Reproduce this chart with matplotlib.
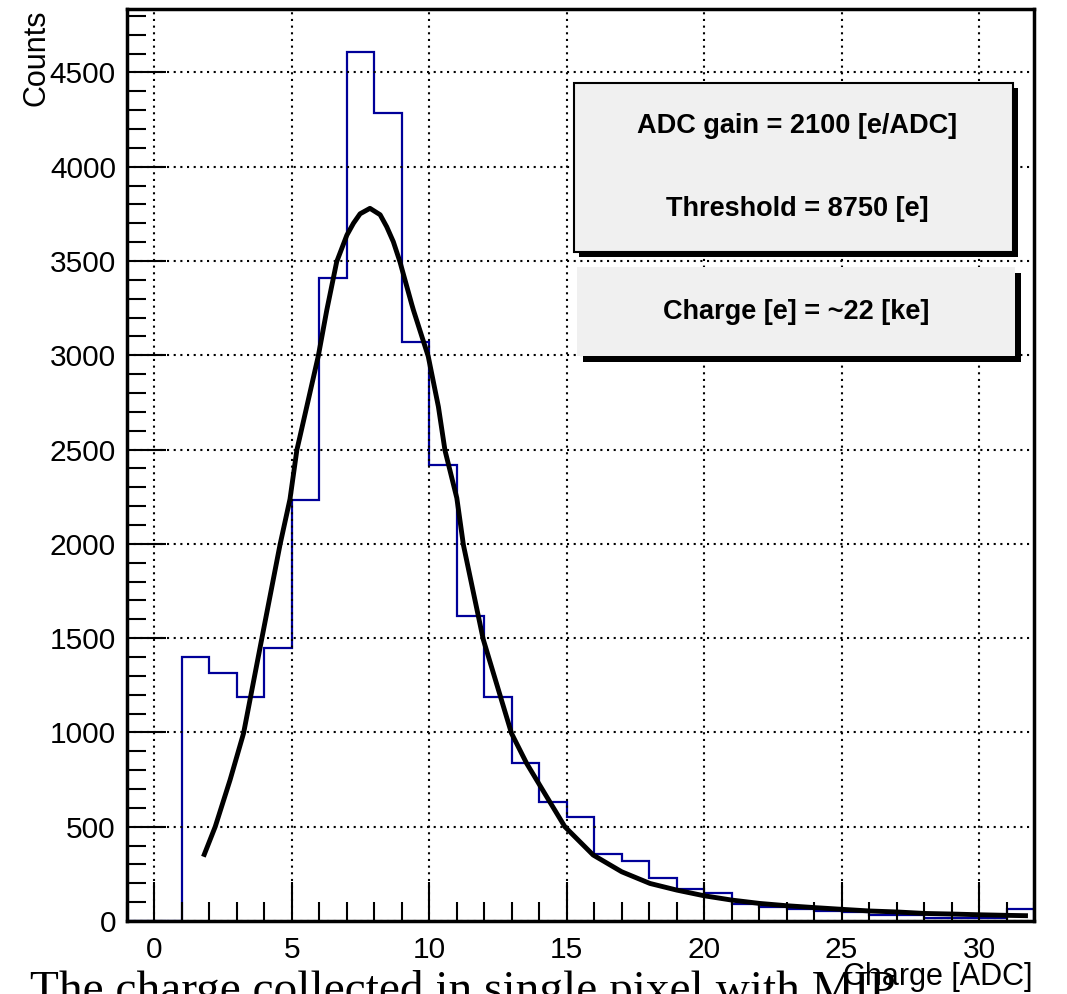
import matplotlib
matplotlib.use("Agg")
import matplotlib.pyplot as plt
from matplotlib.patches import Rectangle
from matplotlib.ticker import MultipleLocator
import numpy as np

# ---- data ----
bin_edges = list(range(-1, 33))
counts = [0, 0, 1401, 1317, 1186, 1446, 2230, 3412, 4608, 4284, 3068, 2418,
          1617, 1186, 836, 632, 553, 355, 318, 226, 170, 150, 90, 76, 64,
          53, 46, 32, 32, 18, 18, 15, 62]

fit_x = [1.78, 2.21, 2.75, 3.24, 3.90, 4.57, 4.93, 5.18, 5.54, 5.96, 6.27,
         6.63, 7.00, 7.24, 7.48, 7.84, 8.21, 8.45, 8.69, 8.93, 9.36, 9.42,
         9.96, 10.33, 10.57, 11.0, 11.24, 11.96, 12.99, 13.54, 14.27, 14.93,
         15.96, 17.0, 18.03, 19.0, 19.99, 21.0, 22.03, 23.0, 24.02, 25.0,
         26.03, 27.0, 28.03, 29.0, 30.03, 31.0, 31.78]
fit_y = [341, 500, 748, 995, 1494, 1997, 2237, 2497, 2727, 2996, 3240,
         3496, 3637, 3700, 3750, 3779, 3745, 3681, 3602, 3496, 3270, 3240,
         2994, 2727, 2495, 2243, 1994, 1494, 995, 836, 659, 500,
         350, 261, 199, 164, 134, 111, 93, 81, 71, 62,
         53, 48, 40, 37, 33, 30, 28]

x_label = "Charge [ADC]"
y_label = "Counts"
box1_lines = ["ADC gain = 2100 [e/ADC]", "Threshold = 8750 [e]"]
box2_text = "Charge [e] = ~22 [ke]"
caption = "The charge collected in single pixel with MIP"

W, H = 1067, 994
fig = plt.figure(figsize=(W / 100, H / 100), dpi=100)
plt.rcParams['font.family'] = ['Liberation Sans', 'DejaVu Sans']

def fx(px):
    return px / W

def fy(py):
    return 1 - py / H

ax = fig.add_axes([fx(127), fy(921), fx(1034) - fx(127), fy(9) - fy(921)])
ax.set_xlim(-1, 32)
ax.set_ylim(0, 4836)

# histogram
ax.stairs(counts, bin_edges, color="#000099", linewidth=1.6, baseline=0)
# fit curve
ax.plot(fit_x, fit_y, color="black", linewidth=3.5, solid_capstyle="butt",
        solid_joinstyle="round")

# grid & ticks
ax.xaxis.set_major_locator(MultipleLocator(5))
ax.xaxis.set_minor_locator(MultipleLocator(1))
ax.yaxis.set_major_locator(MultipleLocator(500))
ax.yaxis.set_minor_locator(MultipleLocator(100))
ax.grid(True, which="major", color="black", linestyle=(0, (1, 2.2)), linewidth=1.5)
ax.tick_params(which="major", direction="in", length=28, width=1.5,
               labelsize=21.5, pad=11, top=False, right=False)
ax.tick_params(which="minor", direction="in", length=14, width=1.5,
               top=False, right=False)
ax.tick_params(axis="y", pad=8)
for s in ax.spines.values():
    s.set_linewidth(2.5)

ax.set_xlabel(x_label, fontsize=22)
ax.xaxis.set_label_coords(0.998, -0.045)
ax.xaxis.label.set_horizontalalignment("right")
ax.set_ylabel(y_label, fontsize=22)
ax.yaxis.set_label_coords(-0.1, 0.999)
ax.yaxis.label.set_horizontalalignment("right")
ax.yaxis.label.set_verticalalignment("center")

# text boxes (figure pixel coordinates)
def box(x0, y0, x1, y1, shadow, edge):
    sh = Rectangle((fx(x0 + shadow[0]), fy(y1 + shadow[1])),
                   fx(x1 - x0), fy(y0) - fy(y1),
                   transform=fig.transFigure, facecolor="black",
                   edgecolor="none", zorder=5)
    fig.add_artist(sh)
    bx = Rectangle((fx(x0), fy(y1)), fx(x1 - x0), fy(y0) - fy(y1),
                   transform=fig.transFigure, facecolor="#f0f0f0",
                   edgecolor="black" if edge else "none",
                   linewidth=1.5, zorder=6)
    fig.add_artist(bx)

box(574, 83, 1013, 252, (5, 5), True)
fig.text(fx(797), fy(126), box1_lines[0], ha="center", va="center",
         fontsize=19.5, fontweight="bold", zorder=7)
fig.text(fx(797), fy(209), box1_lines[1], ha="center", va="center",
         fontsize=19.5, fontweight="bold", zorder=7)

box(577, 267, 1015, 356, (6, 6), False)
fig.text(fx(796), fy(312), box2_text, ha="center", va="center",
         fontsize=19.5, fontweight="bold", zorder=7)

# caption cut off at the bottom
fig.text(fx(30), fy(1003), caption, ha="left", va="baseline",
         fontsize=34, family=["Liberation Serif", "DejaVu Serif"], zorder=0)

fig.savefig("out.png", dpi=100)
